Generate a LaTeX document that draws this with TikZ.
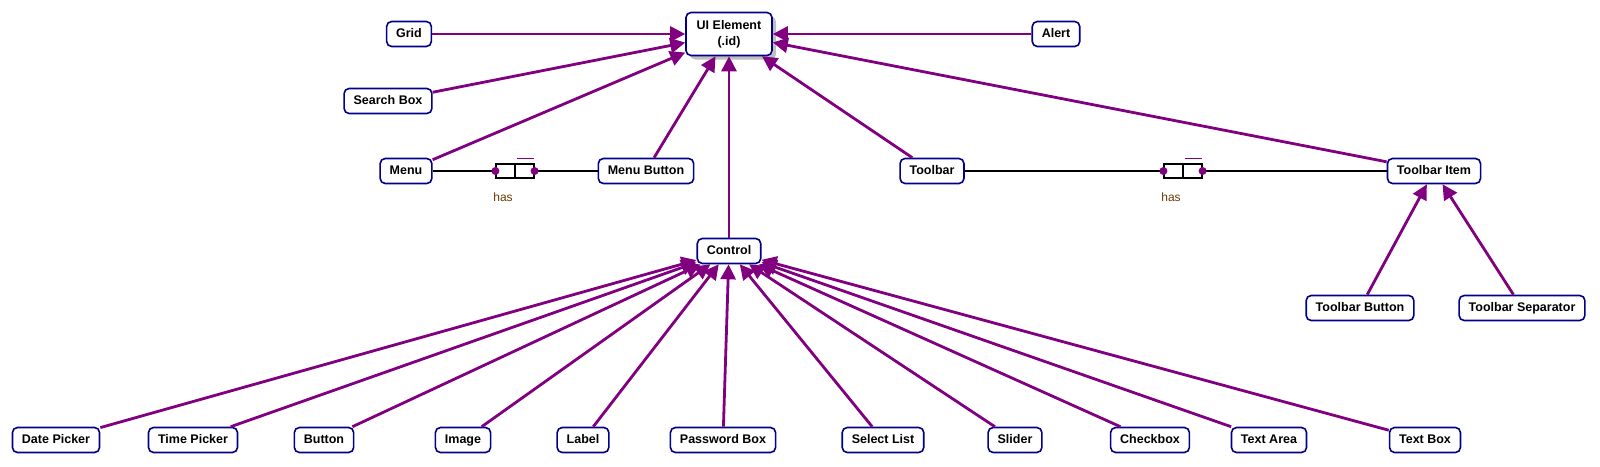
\documentclass[tikz,border=0pt]{standalone}
\usepackage{fontspec}
\setmainfont{Liberation Sans}
\usetikzlibrary{arrows.meta,shadows}
\definecolor{linkpurple}{HTML}{800080}
\definecolor{boxnavy}{HTML}{00008B}
\definecolor{hasbrown}{HTML}{6B3A00}

\tikzset{
    elem/.style={draw=boxnavy, line width=1.6pt, rounded corners=5pt, fill=white,
        font=\fontsize{12.5}{16}\selectfont\bfseries, inner xsep=9.5pt,
        text height=9pt, text depth=2.5pt, minimum height=25pt},
    isa/.style={draw=linkpurple, line width=2.8pt, -{Triangle[length=15pt,width=15pt]}},
    hasline/.style={draw=black, line width=1.2pt},
    hasbox/.style={draw=black, line width=1.2pt, fill=white, minimum width=38pt,
        minimum height=14pt, inner sep=0pt},
    haslbl/.style={text=hasbrown, font=\fontsize{12}{14}\selectfont},
}

\begin{document}
\begin{tikzpicture}[x=1pt, y=-1pt]
    \useasboundingbox (0,0) rectangle (1600,466);

    % top level
    \node[elem, align=center, text height=, text depth=, minimum width=86pt, minimum height=43pt,
        drop shadow={shadow xshift=4pt, shadow yshift=-4pt, fill=black!25, opacity=1}]
        (uielem) at (729,34) {UI Element\\(.id)};
    \node[elem] (grid) at (409,34) {Grid};
    \node[elem] (alert) at (1056,34) {Alert};
    \node[elem] (searchbox) at (388,101) {Search Box};
    \node[elem] (menu) at (406,171) {Menu};
    \node[elem] (menubtn) at (646,171) {Menu Button};
    \node[elem] (toolbar) at (932,171) {Toolbar};
    \node[elem] (tbitem) at (1434,171) {Toolbar Item};
    \node[elem] (control) at (729,251) {Control};
    \node[elem] (tbbutton) at (1360,308) {Toolbar Button};
    \node[elem] (tbsep) at (1522,308) {Toolbar Separator};

    % controls
    \foreach \x/\name/\txt in {56/datepick/Date Picker, 193/timepick/Time Picker,
            324/button/Button, 463/image/Image, 583/label/Label,
            723/password/Password Box, 883/selectlist/Select List, 1015/slider/Slider,
            1150/checkbox/Checkbox, 1269/textarea/Text Area, 1425/textbox/Text Box}
        \node[elem] (\name) at (\x,440) {\txt};

    % generalisation links
    \foreach \name in {grid,alert,searchbox,menu,menubtn,toolbar,tbitem,control}
        \draw[isa] (\name) -- (uielem);
    \foreach \name in {datepick,timepick,button,image,label,password,selectlist,
            slider,checkbox,textarea,textbox}
        \draw[isa] (\name) -- (control);
    \draw[isa] (tbbutton) -- (tbitem);
    \draw[isa] (tbsep) -- (tbitem);

    % has relations
    \foreach \name/\x/\from/\to in {hasA/515/menu/menubtn, hasB/1183/toolbar/tbitem} {
        \node[hasbox] (\name) at (\x,171) {};
        \draw[hasline] (\from) -- (\name);
        \draw[hasline] (\name) -- (\to);
        \draw[hasline] (\name.north) -- (\name.south);
        \fill[linkpurple] (\name.west) circle (4pt);
        \fill[linkpurple] (\name.east) circle (4pt);
        \draw[linkpurple, line width=1.5pt] ([xshift=2pt,yshift=5pt]\name.north)
            -- ([xshift=-1pt,yshift=5pt]\name.north east);
        \node[haslbl] (\name lbl) at (\x-12,197) {has};
    }
\end{tikzpicture}
\end{document}
